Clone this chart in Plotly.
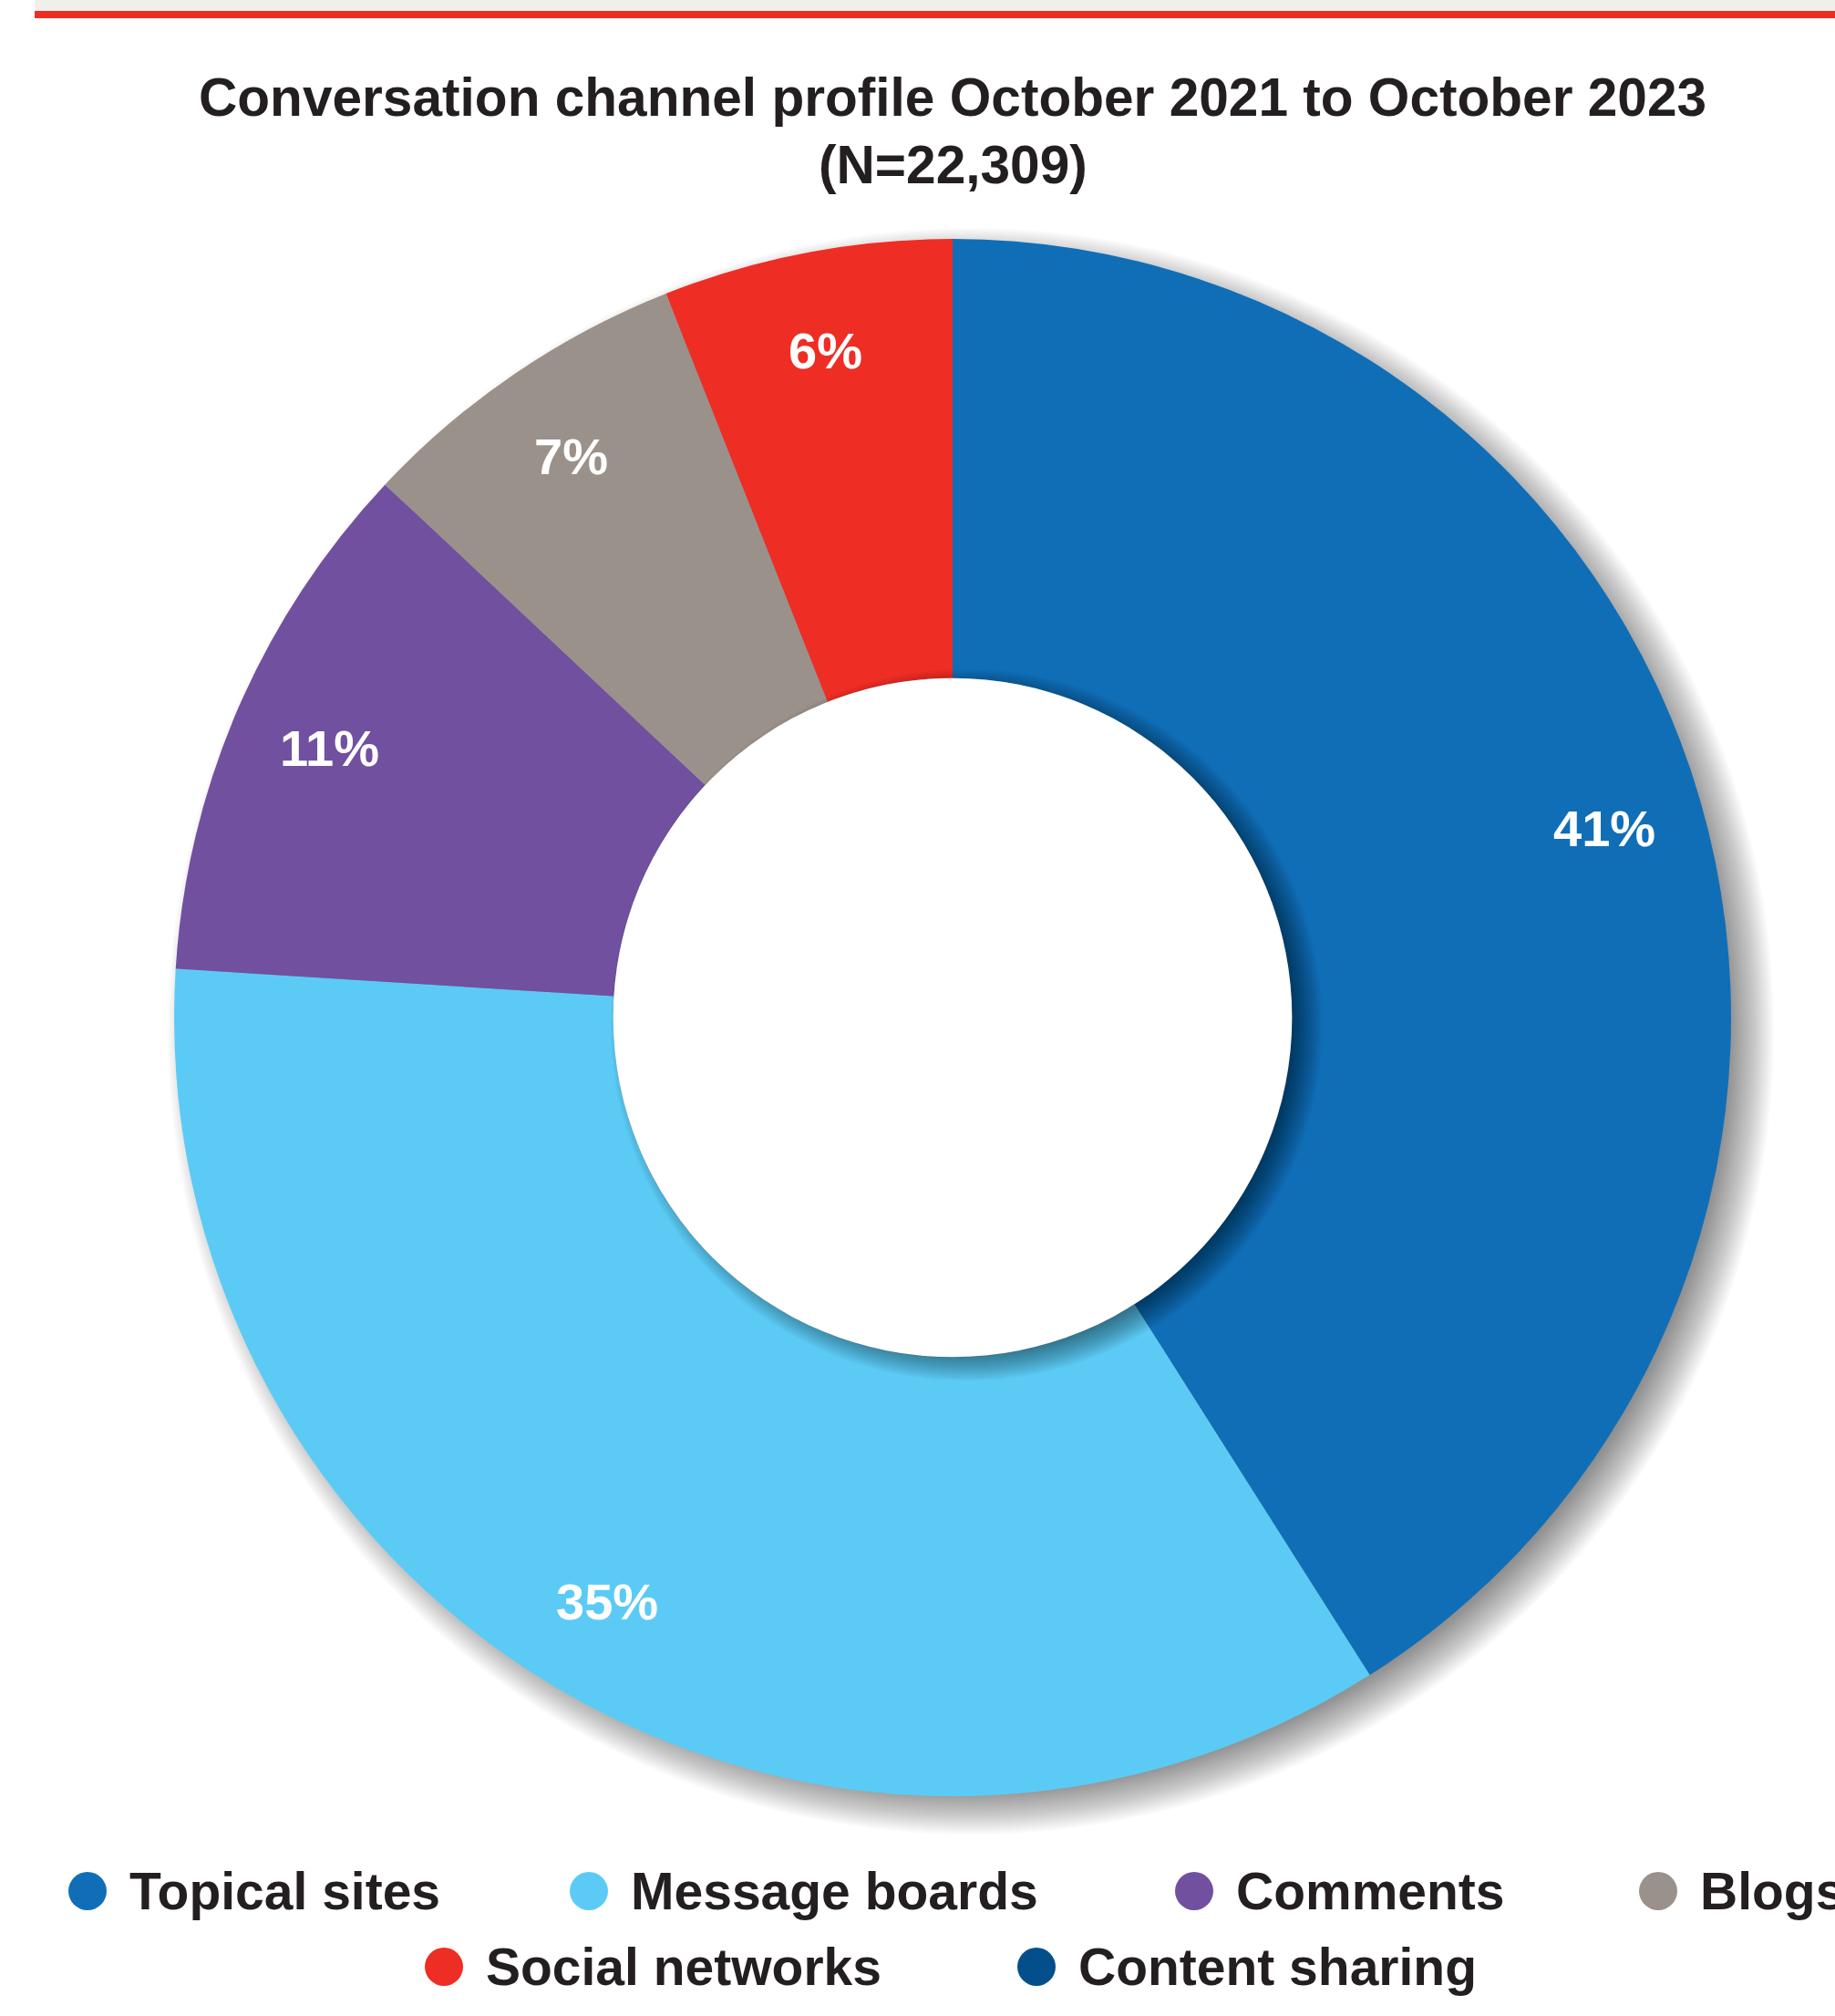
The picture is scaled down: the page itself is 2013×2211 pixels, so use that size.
import math
import plotly.graph_objects as go

# ---------------- data ----------------
categories = ["Topical sites", "Message boards", "Comments", "Blogs",
              "Social networks", "Content sharing"]
shares = [41, 35, 11, 7, 6, 0]
colors = ["#106eb7", "#5bcbf5", "#7150a0", "#9a918b", "#ee2d25", "#044f8b"]
title_line1 = "Conversation channel profile October 2021 to October 2023"
title_line2 = "(N=22,309)"

# ---------------- layout geometry (pixels) ----------------
W, H = 2013, 2211
CX, CY, R = 1045, 1116, 854
HOLE = 0.436
RH = HOLE * R
LABEL_R = 0.872 * R
FONT = "Liberation Sans, Arial, sans-serif"
INK = "#231f20"


def px(x):
    return x / W


def py(y):
    return 1 - y / H


def circle(x, y, r, color, layer="below"):
    return dict(type="circle", xref="paper", yref="paper",
                x0=px(x - r), x1=px(x + r), y0=py(y + r), y1=py(y - r),
                fillcolor=color, line=dict(width=0), layer=layer)


fig = go.Figure(go.Pie(
    labels=categories, values=shares,
    marker=dict(colors=colors, line=dict(width=0)),
    hole=HOLE, sort=False, direction="clockwise", rotation=0,
    textinfo="none", hoverinfo="label+percent", showlegend=False,
    domain=dict(x=[px(CX - R), px(CX + R)], y=[py(CY + R), py(CY - R)]),
))

shapes = []
# top band + red rule
shapes.append(dict(type="rect", xref="paper", yref="paper", x0=px(38), x1=1,
                   y0=py(12), y1=py(0), fillcolor="#f1efeb",
                   line=dict(width=0), layer="below"))
shapes.append(dict(type="rect", xref="paper", yref="paper", x0=px(38), x1=1,
                   y0=py(20), y1=py(12), fillcolor="#ee2d25",
                   line=dict(width=0), layer="below"))

# soft drop shadow behind the ring
for k in range(-25, 28, 2):
    shapes.append(circle(CX + 20, CY + 15, R + k, "rgba(0,0,0,0.02)", "below"))

# shadow cast by the hole onto the ring, then the white hole on top
for k in range(-16, 19, 2):
    shapes.append(circle(CX + 15, CY + 8, RH + k, "rgba(0,0,0,0.033)", "above"))
shapes.append(circle(CX, CY, RH, "white", "above"))

annotations = []
# title
annotations.append(dict(text=title_line1, x=px(CX), y=py(106), xref="paper",
                        yref="paper", xanchor="center", yanchor="middle",
                        showarrow=False,
                        font=dict(family=FONT, size=58.6, color=INK, weight="bold")))
annotations.append(dict(text=title_line2, x=px(CX), y=py(181), xref="paper",
                        yref="paper", xanchor="center", yanchor="middle",
                        showarrow=False,
                        font=dict(family=FONT, size=58.6, color=INK, weight="bold")))

# percentage labels from the data
total = sum(shares)
cum = 0
for name, v in zip(categories, shares):
    if v <= 0:
        continue
    mid = (cum + v / 2) / total * 2 * math.pi
    cum += v
    lx = CX + LABEL_R * math.sin(mid)
    ly = CY - LABEL_R * math.cos(mid)
    annotations.append(dict(text=f"{v}%", x=px(lx), y=py(ly), xref="paper",
                            yref="paper", xanchor="center", yanchor="middle",
                            showarrow=False,
                            font=dict(family=FONT, size=56, color="white",
                                      weight="bold")))

# custom legend (round markers)
legend_pos = [(96, 2074), (646, 2074), (1310, 2074), (1819, 2074),
              (487, 2157), (1137, 2157)]
for name, col, (mx, my) in zip(categories, colors, legend_pos):
    shapes.append(circle(mx, my, 21, col, "below"))
    annotations.append(dict(text=name, x=px(mx + 44), y=py(my), xref="paper",
                            yref="paper", xanchor="left", yanchor="middle",
                            showarrow=False,
                            font=dict(family=FONT, size=57, color=INK,
                                      weight="bold")))

fig.update_layout(
    width=W, height=H,
    margin=dict(l=0, r=0, t=0, b=0),
    paper_bgcolor="white", plot_bgcolor="white",
    shapes=shapes, annotations=annotations,
    showlegend=False,
)

fig.write_html("out.html")
